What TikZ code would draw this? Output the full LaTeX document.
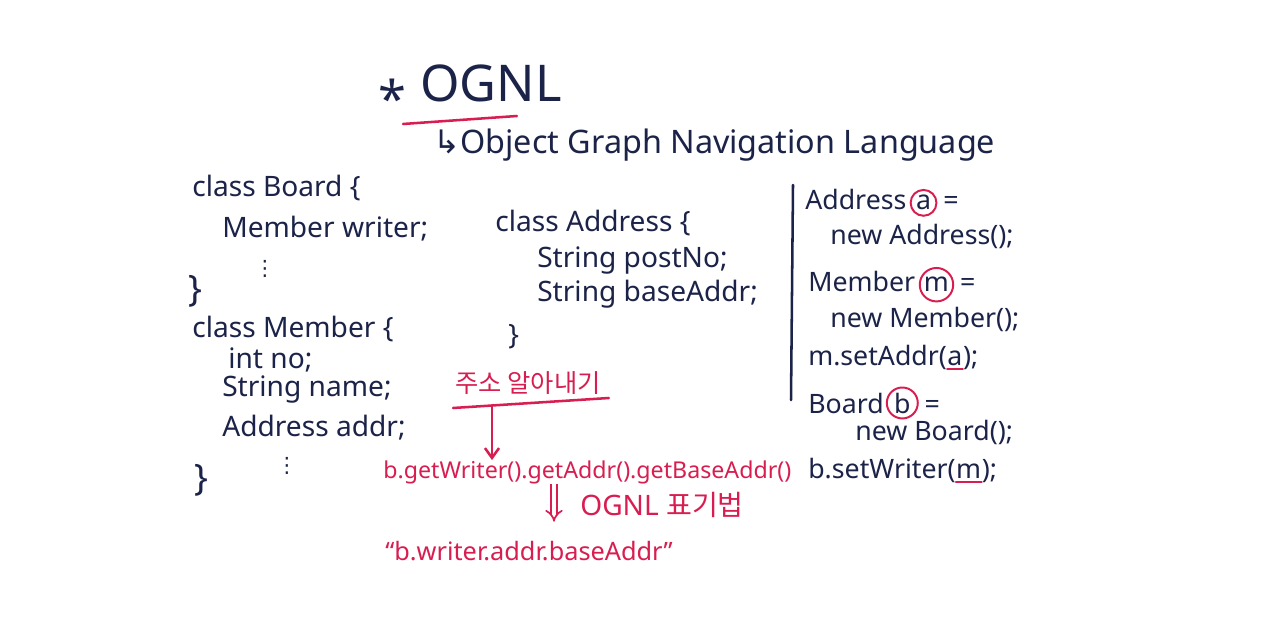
\documentclass[tikz,border=0pt]{standalone}
\usepackage{fontspec}
\setmainfont{Noto Sans}
\newfontfamily\korfont{Noto Sans CJK KR}
\newfontfamily\symfont{DejaVu Sans}
\usetikzlibrary{arrows.meta,positioning,calc}
\definecolor{ink}{HTML}{1C2348}
\definecolor{pen}{HTML}{D81E50}

\begin{document}
\begin{tikzpicture}[
  x=0.025cm, y=-0.025cm,
  code/.style={anchor=base west, inner sep=0pt, text=ink, font=\fontsize{20}{24}\selectfont},
  objcode/.style={code, font=\fontsize{19}{23}\selectfont},
  redcode/.style={code, text=pen, font=\fontsize{16.5}{20}\selectfont},
  heading/.style={code, font=\fontsize{36}{40}\selectfont},
  dots/.style={code, font=\symfont\fontsize{15}{18}\selectfont},
  circ/.style={circle, draw=pen, line width=1.4pt, inner sep=1.2pt, anchor=base, text=ink, font=\fontsize{19}{23}\selectfont},
  inkline/.style={draw=ink, line width=1.8pt, line cap=round},
  penline/.style={draw=pen, line width=1.8pt, line cap=round},
  penarrow/.style={penline, -{Straight Barb[length=7pt,width=10pt]}},
  dblarrow/.style={draw=pen, double, double distance=3pt, line width=1.2pt, -{Implies}},
]
\fill[white] (0,0) rectangle (1280,635);
\useasboundingbox (0,0) rectangle (1280,635);

% -- title --
\node[heading] (star) at (378,118) {*};
\node[heading] (ttl) at (420,102) {OGNL};
\draw[penline] ([shift={(-17,22)}]ttl.base west) -- ([shift={(-45,14)}]ttl.base east);
\node[code, font=\fontsize{23}{28}\selectfont] (sub) at (433,154) {{\symfont ↳}Object Graph Navigation Language};

% -- class Board / Member --
\node[code] (board) at (192,197) {class Board \{};
\node[code] (writer) at (222,238) {Member writer;};
\node[dots] (dots1) at (254,276) {⋮};
\node[code, font=\fontsize{26}{30}\selectfont] (bclose) at (188,302) {\}};
\node[code] (member) at (192,338) {class Member \{};
\node[code] (intno) at (228,368) {int no;};
\node[code] (strname) at (222,396) {String name;};
\node[code] (addr) at (222,436) {Address addr;};
\node[dots] (dots2) at (276,472) {⋮};
\node[code, font=\fontsize{26}{30}\selectfont] (mclose) at (194,490) {\}};

% -- class Address --
\node[code] (address) at (495,232) {class Address \{};
\node[code] (postno) at (537,268) {String postNo;};
\node[code] (baseaddr) at (537,302) {String baseAddr;};
\node[code] (aclose) at (508,345) {\}};

% -- getter chain --
\node[redcode, font=\korfont\fontsize{18}{22}\selectfont] (find) at (455,392) {주소 알아내기};
\draw[penline] ([shift={(-2,16)}]find.base west) coordinate (fl) -- ([shift={(8,6)}]find.base east) coordinate (fr);
\coordinate (fa) at ($(fl)!0.25!(fr)$);
\node[redcode] (getter) at (383,478) {b.getWriter().getAddr().getBaseAddr()};
\draw[penarrow] (fa) -- (fa |- getter.north);
\node[redcode, font=\fontsize{20}{24}\selectfont] (ognl) at (580,515) {OGNL {\korfont 표기법}};
\node[redcode, font=\fontsize{18}{22}\selectfont] (quote) at (385,560) {“b.writer.addr.baseAddr”};
\coordinate (dx) at (554,0);
\draw[dblarrow] (dx |- getter.south) -- ([yshift=-3pt]dx |- ognl.south);

% -- object setup --
\coordinate (vtop) at (793,185);
\coordinate (vbot) at (791,400);
\draw[inkline] (vtop) -- (vbot);
\node[objcode] (atype) at (805,210) {Address};
\node[circ] (avar) at ([xshift=12pt]atype.base east) {a};
\node[objcode] (aeq) at ([xshift=4pt]avar.east |- atype.base) {=};
\node[objcode] (anew) at (830,245) {new Address();};
\node[objcode] (mtype) at (808,292) {Member};
\node[circ] (mvar) at ([xshift=15pt]mtype.base east) {m};
\node[objcode] (meq) at ([xshift=4pt]mvar.east |- mtype.base) {=};
\node[objcode] (mnew) at (830,328) {new Member();};
\node[objcode] (setaddr) at (808,365) {m.setAddr(};
\node[objcode] (seta) at (setaddr.base east) {a};
\node[objcode] (setaend) at (seta.base east) {);};
\draw[penline] ([yshift=-3pt]seta.base west) -- ([yshift=-3pt]seta.base east);
\node[objcode] (btype) at (808,413) {Board};
\node[circ] (bvar) at ([xshift=13pt]btype.base east) {b};
\node[objcode] (beq) at ([xshift=4pt]bvar.east |- btype.base) {=};
\node[objcode] (bnew) at (855,440) {new Board();};
\node[objcode] (setwriter) at (808,478) {b.setWriter(};
\node[objcode] (setm) at (setwriter.base east) {m};
\node[objcode] (setmend) at (setm.base east) {);};
\draw[penline] ([yshift=-3pt]setm.base west) -- ([yshift=-3pt]setm.base east);
\end{tikzpicture}
\end{document}
